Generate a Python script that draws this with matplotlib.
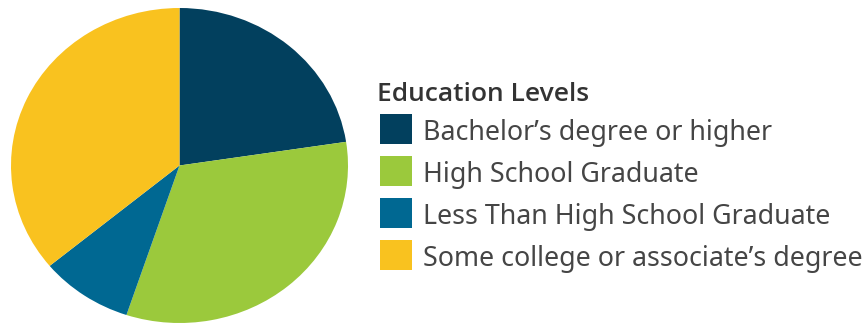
import matplotlib
matplotlib.use("Agg")
import matplotlib.pyplot as plt
from matplotlib.patches import Rectangle

# share of population by education level
levels = [
    "Bachelor\u2019s degree or higher",
    "High School Graduate",
    "Less Than High School Graduate",
    "Some college or associate\u2019s degree",
]
shares = [22.6, 32.5, 8.9, 36.0]
colors = ["#02405E", "#9BC93C", "#006892", "#F9C21F"]

plt.rcParams["font.family"] = ["Noto Sans", "DejaVu Sans"]

W, H = 867, 324
fig = plt.figure(figsize=(W / 100, H / 100), dpi=100)

# pie is drawn slightly wider than tall
ax = fig.add_axes([11 / W, 1 / H, 337 / W, 315 / H])
wedges, _ = ax.pie(shares, colors=colors, startangle=90, counterclock=False,
                   radius=1, wedgeprops=dict(linewidth=0))
ax.set_aspect("auto")
ax.set_xlim(-1, 1)
ax.set_ylim(-1, 1)
ax.axis("off")

# key on the right, laid out in pixels from the top-left corner
fig.text(377 / W, 1 - 101.5 / H, "Education Levels", fontsize=19,
         family=["Open Sans", "DejaVu Sans"], fontweight="semibold",
         color="#333333", va="baseline", ha="left")

row_top, row_step = 114, 42
for i, (label, wedge) in enumerate(zip(levels, wedges)):
    top = row_top + i * row_step
    fig.patches.append(Rectangle((380 / W, 1 - (top + 30) / H), 32 / W, 30 / H,
                                 transform=fig.transFigure,
                                 facecolor=wedge.get_facecolor(),
                                 edgecolor="none"))
    fig.text(423 / W, 1 - (top + 25.7) / H, label, fontsize=19.3,
             color="#454545", va="baseline", ha="left")

fig.savefig("out.png", dpi=100, facecolor="white")
